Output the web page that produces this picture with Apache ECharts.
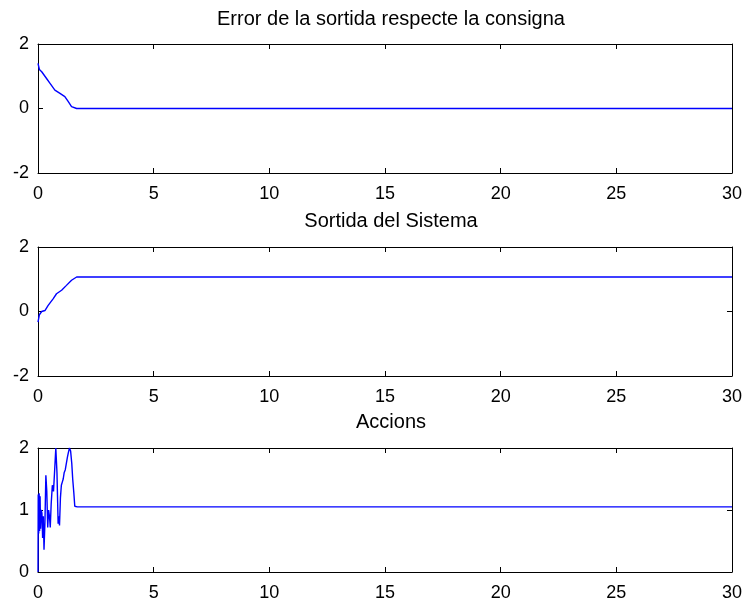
<!DOCTYPE html>
<html>
<head>
<meta charset="utf-8">
<script src="https://cdn.jsdelivr.net/npm/echarts@6/dist/echarts.min.js"></script>
<style>
html,body{margin:0;padding:0;background:#ffffff;}
#chart{width:745px;height:602px;}
</style>
</head>
<body>
<div id="chart"></div>
<script>
// ---- data ----
var titles = ["Error de la sortida respecte la consigna", "Sortida del Sistema", "Accions"];
var xTicks = [0, 5, 10, 15, 20, 25, 30];

var errT = [0, 0.06, 0.16, 0.37, 0.52, 0.73, 0.95, 1.16, 1.31, 1.45, 1.67, 30];
var errV = [1.40, 1.21, 1.14, 0.93, 0.78, 0.57, 0.47, 0.37, 0.21, 0.06, 0.0, 0.0];

var outT = [0, 0.06, 0.16, 0.30, 0.44, 0.66, 0.80, 1.02, 1.23, 1.45, 1.67, 30];
var outV = [-0.33, -0.10, 0.0, 0.03, 0.19, 0.40, 0.55, 0.66, 0.81, 0.97, 1.07, 1.07];

var actT = [0, 0.01, 0.03, 0.05, 0.07, 0.09, 0.11, 0.14, 0.17, 0.20, 0.23, 0.26, 0.30, 0.34, 0.38, 0.42, 0.46, 0.50, 0.53, 0.57, 0.62, 0.67, 0.72, 0.77, 0.82, 0.87, 0.90, 0.93, 0.97, 1.01, 1.05, 1.09, 1.13, 1.18, 1.22, 1.27, 1.31, 1.36, 1.41, 1.46, 1.50, 1.55, 1.59, 1.70, 30];
var actV = [0, 1.25, 0.62, 1.27, 0.66, 1.22, 0.70, 1.00, 0.95, 0.55, 0.90, 0.36, 0.80, 1.56, 1.30, 0.72, 1.00, 0.88, 0.72, 1.10, 1.40, 1.30, 1.64, 2.00, 1.60, 0.78, 0.90, 0.75, 1.20, 1.40, 1.45, 1.50, 1.60, 1.65, 1.74, 1.85, 1.92, 2.00, 1.95, 1.75, 1.50, 1.27, 1.06, 1.05, 1.05];

var yRange1 = {min: -2, max: 2, interval: 2};
var yRange3 = {min: 0, max: 2, interval: 1};

// ---- build ----
function pairs(t, v) { return t.map(function (x, i) { return [x, v[i]]; }); }

var FONT = 'Liberation Sans';
var grids = [
  {left: 38, top: 44, width: 696, height: 129},
  {left: 38, top: 247, width: 696, height: 129},
  {left: 38, top: 448, width: 696, height: 128}
];
var titleTops = [4, 206, 407];
var yRanges = [yRange1, yRange1, yRange3];
var seriesData = [pairs(errT, errV), pairs(outT, outV), pairs(actT, actV)];

var lineStyle = {color: '#000', width: 1};
var xAxes = [], yAxes = [], series = [], titleArr = [];
grids.forEach(function (g, i) {
  xAxes.push({
    type: 'value', gridIndex: i, min: 0, max: 30, interval: 5, position: 'bottom',
    axisLine: {show: true, onZero: false, lineStyle: lineStyle},
    axisTick: {show: true, inside: true, length: 5, lineStyle: lineStyle},
    axisLabel: {show: true, color: '#000', fontSize: 18, fontFamily: FONT, margin: 12},
    splitLine: {show: false}
  });
  xAxes.push({
    type: 'value', gridIndex: i, min: 0, max: 30, interval: 5, position: 'top',
    axisLine: {show: true, onZero: false, lineStyle: lineStyle},
    axisTick: {show: true, inside: true, length: 5, lineStyle: lineStyle},
    axisLabel: {show: false},
    splitLine: {show: false}
  });
  var r = yRanges[i];
  yAxes.push({
    type: 'value', gridIndex: i, min: r.min, max: r.max, interval: r.interval, position: 'left',
    axisLine: {show: true, onZero: false, lineStyle: lineStyle},
    axisTick: {show: true, inside: true, length: 5, lineStyle: lineStyle},
    axisLabel: {show: true, color: '#000', fontSize: 18, fontFamily: FONT, margin: 9},
    splitLine: {show: false}
  });
  yAxes.push({
    type: 'value', gridIndex: i, min: r.min, max: r.max, interval: r.interval, position: 'right',
    axisLine: {show: true, onZero: false, lineStyle: lineStyle},
    axisTick: {show: true, inside: true, length: 5, lineStyle: lineStyle},
    axisLabel: {show: false},
    splitLine: {show: false}
  });
  series.push({
    type: 'line', xAxisIndex: i * 2, yAxisIndex: i * 2, data: seriesData[i],
    showSymbol: false, symbol: 'none', animation: false, clip: true,
    lineStyle: {color: '#0000ff', width: 1.4}
  });
  titleArr.push({
    text: titles[i], left: 386, top: titleTops[i], textAlign: 'center',
    textStyle: {color: '#000', fontSize: 20, fontWeight: 'normal', fontFamily: FONT}
  });
});

var chart = echarts.init(document.getElementById('chart'), null, {renderer: 'canvas'});
chart.setOption({
  backgroundColor: '#ffffff',
  animation: false,
  title: titleArr,
  grid: grids,
  xAxis: xAxes,
  yAxis: yAxes,
  series: series
});
</script>
</body>
</html>
